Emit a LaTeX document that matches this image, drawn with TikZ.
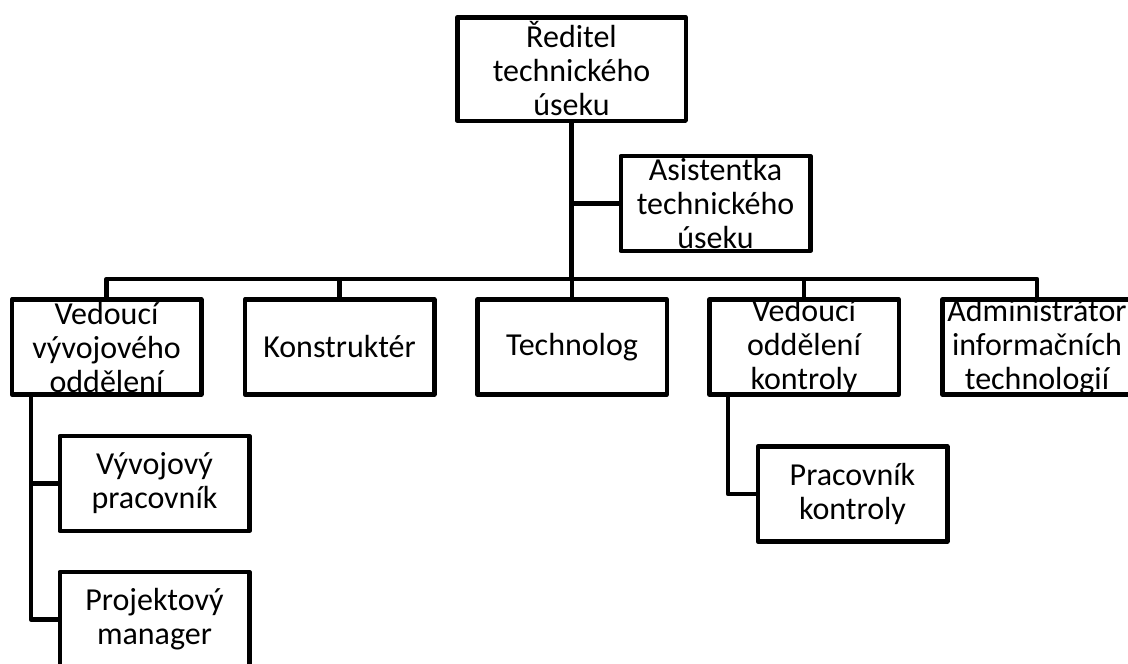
\documentclass[tikz,border=0pt]{standalone}
\usepackage{fontspec}
\setmainfont{Carlito}
\begin{document}
\begin{tikzpicture}[x=1pt,y=-1pt,
  line width=4.5pt, line join=round,
  box/.style={draw=black, fill=white, inner sep=0pt, minimum width=189.5pt, minimum height=95pt},
  bigbox/.style={box, minimum width=228.5pt, minimum height=103.5pt},
  txt/.style={inner sep=0pt, align=center, font=\fontsize{32}{34}\selectfont},
  link/.style={draw=black, line width=4.5pt}]
\useasboundingbox (0,0) rectangle (1128,664);
\fill[white] (0,0) rectangle (1128,664);
\clip (0,0) rectangle (1128,664);

% horizontal bus and branch columns
\coordinate (bus) at (0,279);
\coordinate (lx) at (31,0);
\coordinate (rx) at (728,0);

% boxes
\node[bigbox] (top) at (571.5,69) {};
\node[box] (asst) at (715.5,203.5) {};
\node[box] (b1) at (106.5,347) {};
\node[box] (b2) at (339.5,347) {};
\node[box] (b3) at (572,347) {};
\node[box] (b4) at (804,347) {};
\node[box] (b5) at (1037,347) {};
\node[box] (d1) at (154.5,483.5) {};
\node[box] (d2) at (154.5,619.5) {};
\node[box] (k1) at (852.5,494) {};

% connectors
\draw[link] (top.south) -- (top.south |- bus);
\draw[link] (asst.west) -- (asst.west -| top.south);
\draw[link] (b1.north) -- (b1.north |- bus) -- (b5.north |- bus) -- (b5.north);
\draw[link] (b2.north) -- (b2.north |- bus);
\draw[link] (b3.north) -- (b3.north |- bus);
\draw[link] (b4.north) -- (b4.north |- bus);
\draw[link] (b1.south -| lx) |- (d2.west);
\draw[link] (d1.west) -- (d1.west -| lx);
\draw[link] (b4.south -| rx) |- (k1.west);

% labels
\node[txt] (top-t) at (top) {Ředitel\\technického\\úseku};
\node[txt] (asst-t) at (asst) {Asistentka\\technického\\úseku};
\node[txt] (b1-t) at (b1) {Vedoucí\\vývojového\\oddělení};
\node[txt] (b2-t) at (b2) {Konstruktér};
\node[txt] (b3-t) at (b3) {Technolog};
\node[txt] (b4-t) at (b4) {Vedoucí\\oddělení\\kontroly};
\node[txt] (b5-t) at (b5) {Administrátor\\informačních\\technologií};
\node[txt] (d1-t) at (d1) {Vývojový\\pracovník};
\node[txt] (d2-t) at (d2) {Projektový\\manager};
\node[txt] (k1-t) at (k1) {Pracovník\\kontroly};
\end{tikzpicture}
\end{document}
